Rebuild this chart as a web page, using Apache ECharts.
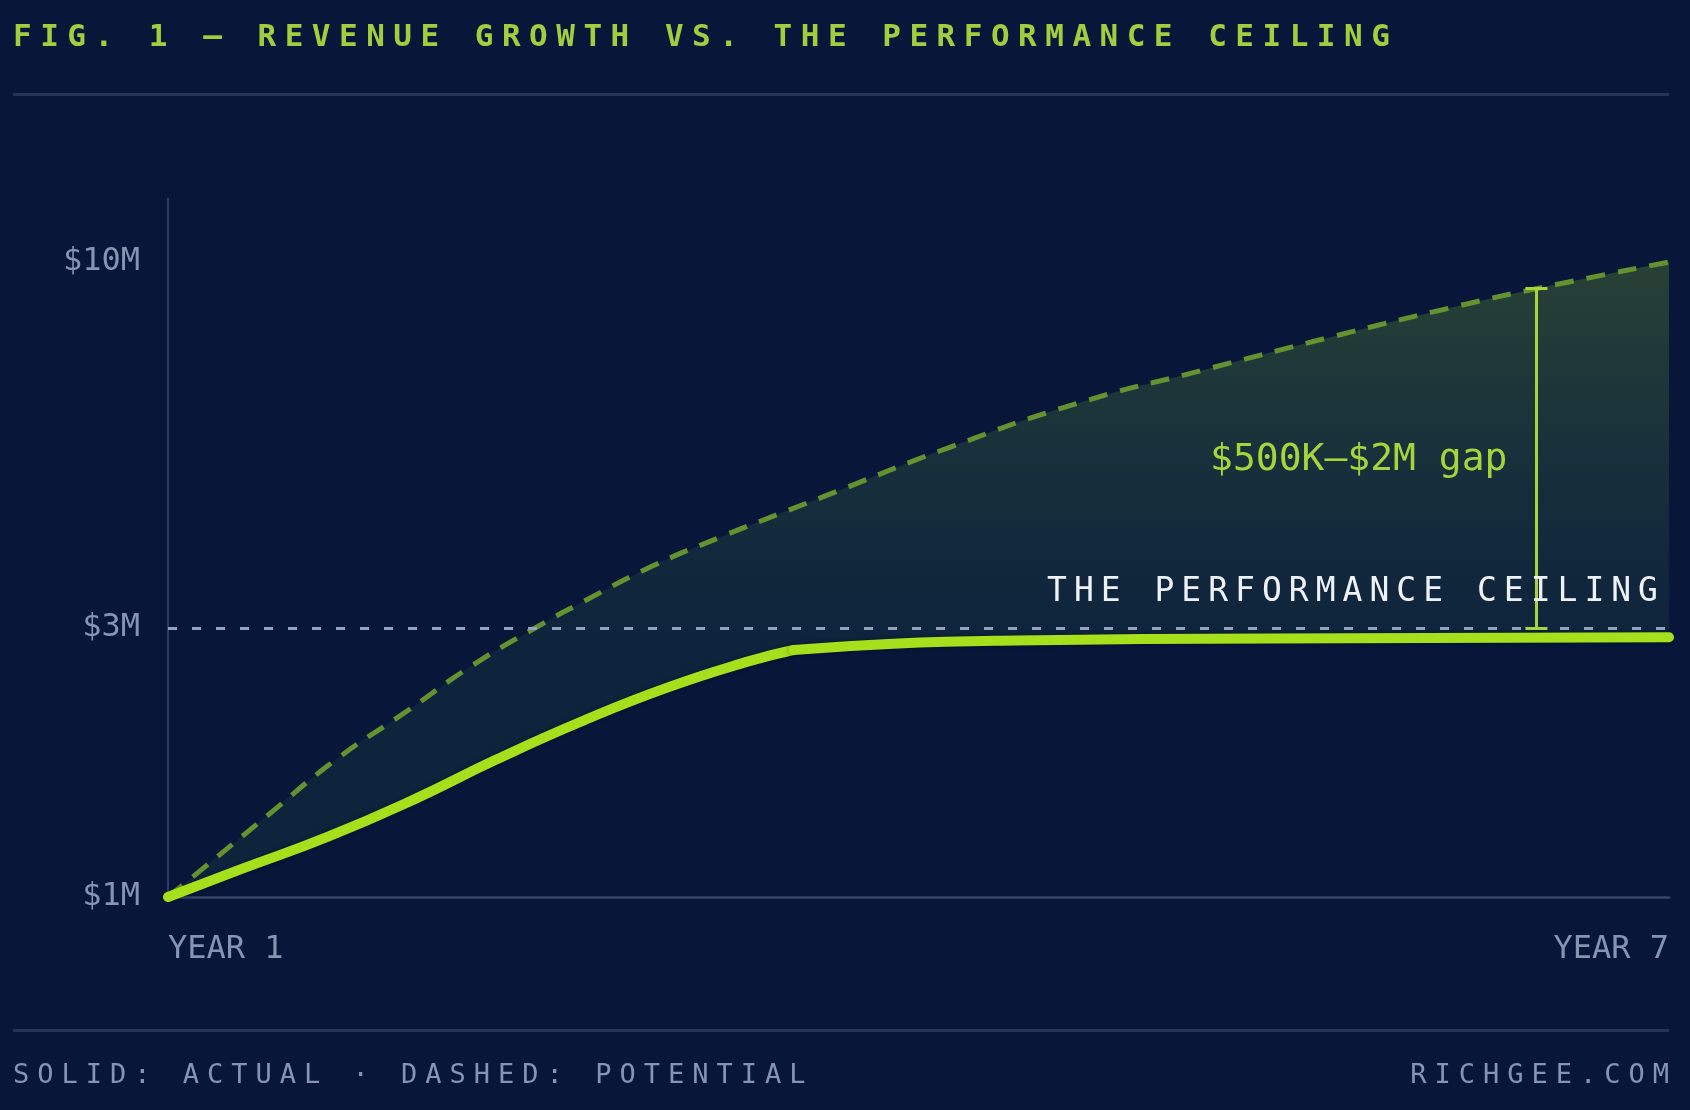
<!DOCTYPE html>
<html>
<head>
<meta charset="utf-8">
<title>Revenue growth vs. the performance ceiling</title>
<script src="https://cdn.jsdelivr.net/npm/echarts@6/dist/echarts.min.js"></script>
<style>
  html, body { margin: 0; padding: 0; background: #071639; }
  #wrap { position: relative; width: 1690px; height: 1110px; background: #071639; overflow: hidden; }
  #chart { position: absolute; left: 0; top: 0; width: 1690px; height: 1110px; }
  .txt { position: absolute; font-family: 'DejaVu Sans Mono', 'Liberation Mono', monospace; white-space: nowrap; }
  .rule { position: absolute; left: 13px; width: 1656px; height: 3px; background: #25355a; }
  #title { left: 13px; top: 20px; font-size: 31px; line-height: 31px; letter-spacing: 8.5px; color: #a4cc3f; font-weight: bold; }
  #footL { left: 13px; top: 1060px; font-size: 27px; line-height: 27px; letter-spacing: 8px; color: #8693b2; }
  #footR { right: 13px; top: 1060px; font-size: 27px; line-height: 27px; letter-spacing: 8px; color: #8693b2; }
  #ceil { font-size: 33px; line-height: 33px; letter-spacing: 7px; color: #eef1f6; }
</style>
</head>
<body>
<div id="wrap">
  <div id="chart"></div>
  <div class="txt" id="title">FIG. 1 — REVENUE GROWTH VS. THE PERFORMANCE CEILING</div>
  <div class="rule" style="top:93px"></div>
  <div class="rule" style="top:1029px"></div>
  <div class="txt" id="footL">SOLID: ACTUAL · DASHED: POTENTIAL</div>
  <div class="txt" id="footR">RICHGEE.COM</div>
  <div class="txt" id="ceil">THE PERFORMANCE CEILING</div>
</div>
<script>
// 数据（纵轴为示意刻度：0 = $1M，100 = $10M）
// 实际收入：上升阶段 + 触顶后的平台阶段（拐点在 3.5 年）
var riseYears = [1, 1.3, 1.64, 1.98, 2.31, 2.65, 2.99, 3.32, 3.5];
var rise = [0, 4.5, 9.5, 15.3, 21.6, 27.6, 32.9, 37.1, 38.9];
var plateauYears = [3.5, 3.9, 4.39, 5.4, 7];
var plateau = [38.9, 39.9, 40.4, 40.7, 40.9];

// 潜力收入（虚线）
var potentialYears = [1, 1.14, 1.4, 1.67, 1.96, 2.21, 2.5, 2.65, 2.93, 3.21, 3.48, 3.63, 4.13, 4.64, 5.14, 5.65, 6.15, 6.47, 7];
var potential = [0, 4.5, 12.9, 21.6, 29.4, 36.3, 43.1, 46.3, 52.0, 56.7, 60.9, 63.2, 70.9, 77.8, 83.0, 88.2, 93.0, 95.8, 100];

var xTickValues = [1, 7];
var xTickLabels = ['YEAR 1', 'YEAR 7'];
var yTickValues = [0, 42.4, 100];
var yTickLabels = ['$1M', '$3M', '$10M'];

var ceilingLevel = 42.4;
var gapX = 6.47;
var gapTop = 95.8;
var gapLabelLevel = 68.8;
var gapLabel = '$500K–$2M gap';

var font = 'DejaVu Sans Mono';
var bg = '#071639';

function pairs(xs, ys) { return xs.map(function (x, i) { return [x, ys[i]]; }); }
var riseData = pairs(riseYears, rise);
var plateauData = pairs(plateauYears, plateau);
var actualData = riseData.concat(plateauData.slice(1));
var potentialData = pairs(potentialYears, potential);

var myChart = echarts.init(document.getElementById('chart'));

var actualLine = {
    color: '#a6e01c',
    width: 10,
    cap: 'round',
    join: 'round',
    shadowColor: 'rgba(0,0,0,0.35)',
    shadowBlur: 4
};
var bracketStyle = { color: '#a6d43a', width: 3, type: 'solid' };
var capHalf = 0.044;

var option = {
    backgroundColor: 'transparent',
    animation: false,
    grid: { left: 168, right: 21, top: 198.5, bottom: 213 },
    xAxis: {
        type: 'value',
        min: 1,
        max: 7,
        z: 3,
        axisLine: { show: true, lineStyle: { color: '#34446a', width: 2.5 } },
        axisTick: { show: false },
        splitLine: { show: false },
        axisLabel: {
            customValues: xTickValues,
            formatter: function (v) { return xTickLabels[xTickValues.indexOf(v)]; },
            alignMinLabel: 'left',
            alignMaxLabel: 'right',
            margin: 37,
            color: '#8693b2',
            fontFamily: font,
            fontSize: 32
        }
    },
    yAxis: {
        type: 'value',
        min: 0,
        max: 110,
        z: 3,
        axisLine: { show: true, lineStyle: { color: '#2c3c62', width: 2 } },
        axisTick: { show: false },
        splitLine: { show: false },
        axisLabel: {
            customValues: yTickValues,
            formatter: function (v) { return yTickLabels[yTickValues.indexOf(v)]; },
            margin: 28,
            color: '#8693b2',
            fontFamily: font,
            fontSize: 32
        }
    },
    series: [
        {
            // 潜力曲线（虚线）+ 渐变填充
            name: 'Potential',
            type: 'line',
            data: potentialData,
            showSymbol: false,
            smooth: true,
            z: 1,
            lineStyle: { color: '#64922f', width: 5, type: [19, 13] },
            areaStyle: {
                color: new echarts.graphic.LinearGradient(0, 0, 0, 1, [
                    { offset: 0, color: 'rgba(120,170,45,0.42)' },
                    { offset: 0.6, color: 'rgba(70,140,90,0.16)' },
                    { offset: 1, color: 'rgba(70,140,90,0.16)' }
                ])
            }
        },
        {
            // 实际曲线下方用背景色遮住填充
            name: 'ActualFill',
            type: 'line',
            data: actualData,
            showSymbol: false,
            silent: true,
            z: 2,
            lineStyle: { width: 0, opacity: 0 },
            areaStyle: { color: bg, opacity: 1 }
        },
        {
            name: 'Actual',
            type: 'line',
            data: riseData,
            showSymbol: false,
            smooth: true,
            z: 4,
            lineStyle: actualLine
        },
        {
            name: 'Actual plateau',
            type: 'line',
            data: plateauData,
            showSymbol: false,
            smooth: true,
            z: 4,
            lineStyle: actualLine,
            markLine: {
                silent: true,
                symbol: ['none', 'none'],
                label: { show: false },
                animation: false,
                data: [
                    { yAxis: ceilingLevel, lineStyle: { color: '#95a1bc', width: 3, type: [9, 15] } },
                    [{ coord: [gapX, ceilingLevel], lineStyle: bracketStyle }, { coord: [gapX, gapTop] }],
                    [{ coord: [gapX - capHalf, gapTop], lineStyle: bracketStyle }, { coord: [gapX + capHalf, gapTop] }],
                    [{ coord: [gapX - capHalf, ceilingLevel], lineStyle: bracketStyle }, { coord: [gapX + capHalf, ceilingLevel] }]
                ]
            },
            markPoint: {
                silent: true,
                symbol: 'circle',
                symbolSize: 0,
                data: [{
                    coord: [gapX, gapLabelLevel],
                    label: {
                        show: true,
                        formatter: gapLabel,
                        position: 'left',
                        distance: 29,
                        color: '#a6d43a',
                        fontFamily: font,
                        fontSize: 38
                    }
                }]
            }
        }
    ]
};

myChart.setOption(option);

// 天花板标签（带字距），按数据坐标定位
var p = myChart.convertToPixel({ gridIndex: 0 }, [7, ceilingLevel]);
var ceil = document.getElementById('ceil');
ceil.style.right = (1690 - p[0] + 4) + 'px';
ceil.style.top = (p[1] - 55) + 'px';
</script>
</body>
</html>
